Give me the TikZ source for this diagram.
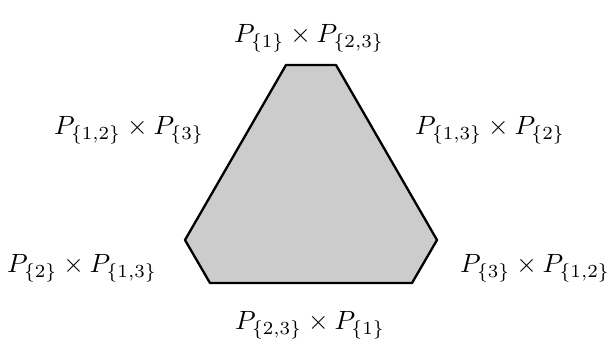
\documentclass[tikz,border=0pt]{standalone}
\begin{document}
\begin{tikzpicture}[x=0.379pt,y=-0.379pt,
  face/.style={draw=black,line width=0.88pt,fill=black!20,line join=round},
  lab/.style={inner sep=0pt}]
\useasboundingbox (0,0) rectangle (611,344);
\coordinate (v1) at (286,65);
\coordinate (v2) at (336,65);
\coordinate (v3) at (437,240);
\coordinate (v4) at (412,283);
\coordinate (v5) at (210,283);
\coordinate (v6) at (185,240);
\draw[face] (v1) -- (v2) -- (v3) -- (v4) -- (v5) -- (v6) -- cycle;
\node[lab] (t) at (309,38) {$P_{\{1\}}\times P_{\{2,3\}}$};
\node[lab] (ul) at (129,130) {$P_{\{1,2\}}\times P_{\{3\}}$};
\node[lab] (ur) at (490,130) {$P_{\{1,3\}}\times P_{\{2\}}$};
\node[lab] (ll) at (82,268) {$P_{\{2\}}\times P_{\{1,3\}}$};
\node[lab] (lr) at (535,268) {$P_{\{3\}}\times P_{\{1,2\}}$};
\node[lab] (b) at (310,325) {$P_{\{2,3\}}\times P_{\{1\}}$};
\end{tikzpicture}
\end{document}
